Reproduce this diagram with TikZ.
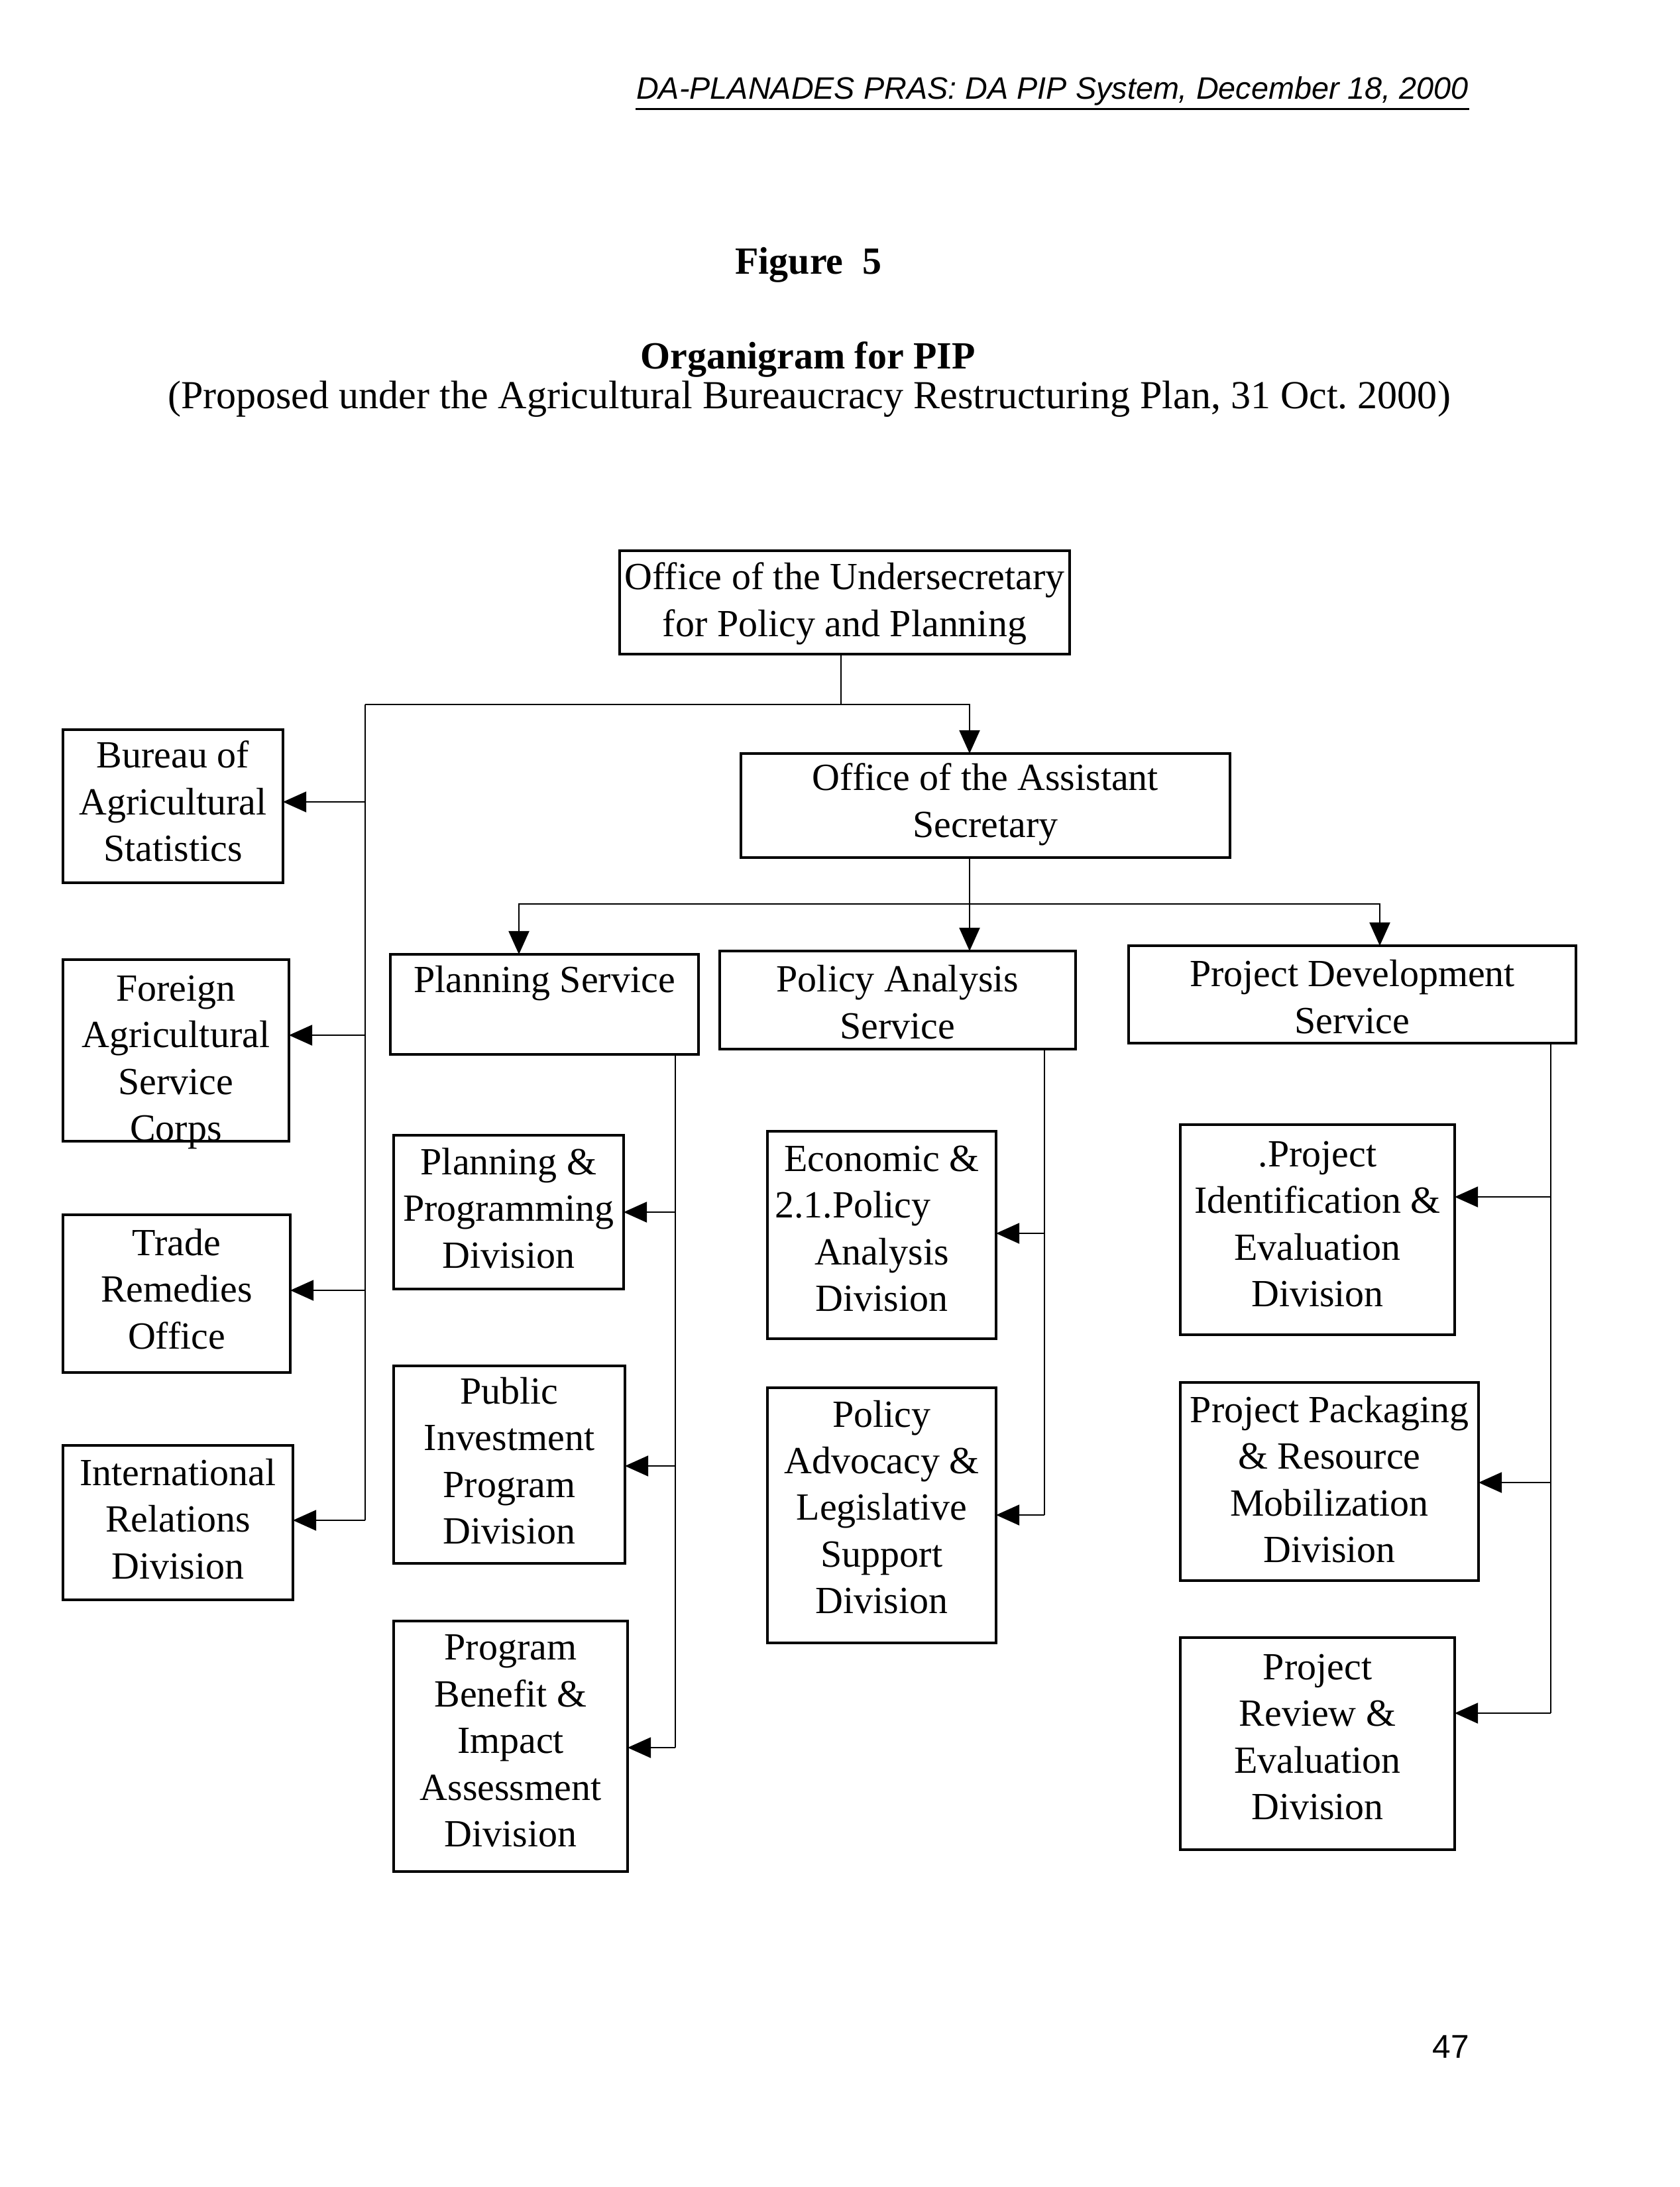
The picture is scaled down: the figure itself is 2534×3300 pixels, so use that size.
\documentclass[tikz,border=0pt]{standalone}
\usepackage{fontspec}
\setmainfont{Liberation Serif}
\newfontfamily\hdrfont{Liberation Sans}
\usetikzlibrary{arrows.meta}
\newcommand\bx[7]{%
  \node[box, minimum width={(#4-#2)*0.241515pt}, minimum height={(#5-#3)*0.241515pt}] (#1) at ({(#2+#4)/2},{(#3+#5)/2}) {};
  \node[txt] (#1t) at ({(#2+#4)/2},#6) {#7};}
\begin{document}
\begin{tikzpicture}[x=0.241515pt,y=-0.241515pt,
  box/.style={draw, line width=0.75pt, inner sep=0pt, outer sep=0pt},
  txt/.style={align=center, inner sep=0pt, font=\fontsize{14}{17}\selectfont},
  conn/.style={line width=0.55pt},
  arr/.style={line width=0.55pt, -{Triangle[length=8.5pt,width=7.5pt]}}]
\fill[white] (0,0) rectangle (2534,3300);
\useasboundingbox (0,0) rectangle (2534,3300);

% headings
\node[font=\hdrfont\itshape\fontsize{11.3}{13}\selectfont, inner sep=0pt] (hdr) at (1588,137) {DA-PLANADES PRAS: DA PIP System, December 18, 2000};
\draw[line width=0.9pt] ([yshift=-1.2pt]hdr.south west) -- ([yshift=-1.2pt]hdr.south east);
\node[font=\bfseries\fontsize{14}{17}\selectfont, inner sep=0pt] (fig) at (1220,400) {Figure~~5};
\node[font=\bfseries\fontsize{14}{17}\selectfont, inner sep=0pt] (ttl) at (1219,542) {Organigram for PIP};
\node[font=\fontsize{14.5}{17}\selectfont, inner sep=0pt] (sub) at (1221,602) {(Proposed under the Agricultural Bureaucracy Restructuring Plan, 31 Oct.\ 2000)};
\node[font=\hdrfont\fontsize{12}{14}\selectfont, inner sep=0pt] (pg) at (2189,3088) {47};

% boxes
\bx{us}{935}{831}{1614}{987}{911}{Office of the Undersecretary\\for Policy and Planning}
\bx{as}{1118}{1137}{1856}{1294}{1214}{Office of the Assistant\\Secretary}
\bx{bas}{95}{1101}{427}{1332}{1209}{Bureau of\\Agricultural\\Statistics}
\bx{fasc}{95}{1448}{436}{1722}{1603}{Foreign\\Agricultural\\Service\\Corps}
\bx{tro}{95}{1833}{438}{2071}{1945}{Trade\\Remedies\\Office}
\bx{ird}{95}{2181}{442}{2414}{2292}{International\\Relations\\Division}
\bx{ps}{589}{1440}{1054}{1591}{1484}{Planning Service}
\bx{pas}{1086}{1435}{1623}{1583}{1512}{Policy Analysis\\Service}
\bx{pds}{1703}{1427}{2378}{1574}{1504}{Project Development\\Service}
\bx{ppd}{594}{1713}{941}{1945}{1823}{Planning \&\\Programming\\Division}
\bx{pipd}{594}{2061}{943}{2359}{2204}{Public\\Investment\\Program\\Division}
\bx{pbia}{594}{2446}{947}{2824}{2627}{Program\\Benefit \&\\Impact\\Assessment\\Division}
\bx{epad}{1158}{1707}{1503}{2020}{1854}{Economic \&\\\makebox[0pt][r]{2.1.}Policy\\Analysis\\Division}
\bx{pals}{1158}{2094}{1503}{2479}{2274}{Policy\\Advocacy \&\\Legislative\\Support\\Division}
\bx{pied}{1781}{1697}{2195}{2014}{1847}{.Project\\Identification \&\\Evaluation\\Division}
\bx{pprm}{1781}{2086}{2231}{2385}{2232}{Project Packaging\\\& Resource\\Mobilization\\Division}
\bx{pred}{1781}{2471}{2195}{2791}{2621}{Project\\Review \&\\Evaluation\\Division}

% junctions
\coordinate (bL) at (551,1063);
\coordinate (j1) at (1269,1063);
\coordinate (j2) at (1463,1063);
\coordinate (j3) at (1463,1364);
\coordinate (j4) at (783,1364);
\coordinate (j5) at (2082,1364);
\coordinate (bP) at (1019,1600);
\coordinate (bA) at (1576,1600);
\coordinate (bD) at (2340,1600);

% top level
\draw[conn] (us.south -| j1) -- (j1);
\draw[arr] (bL) -- (j2) -- (as.north -| j2);
\draw[conn] (bL) -- (bL |- 0,2294);
\draw[arr] (bL |- 0,1210) -- (bas.east |- 0,1210);
\draw[arr] (bL |- 0,1562) -- (fasc.east |- 0,1562);
\draw[arr] (bL |- 0,1947) -- (tro.east |- 0,1947);
\draw[arr] (bL |- 0,2294) -- (ird.east |- 0,2294);

% assistant secretary to services
\draw[arr] (as.south -| j3) -- (pas.north -| j3);
\draw[arr] (j3) -- (j4) -- (ps.north -| j4);
\draw[arr] (j3) -- (j5) -- (pds.north -| j5);

% planning service
\draw[conn] (ps.south -| bP) -- (bP |- 0,2637);
\draw[arr] (bP |- 0,1829) -- (ppd.east |- 0,1829);
\draw[arr] (bP |- 0,2212) -- (pipd.east |- 0,2212);
\draw[arr] (bP |- 0,2637) -- (pbia.east |- 0,2637);

% policy analysis service
\draw[conn] (pas.south -| bA) -- (bA |- 0,2286);
\draw[arr] (bA |- 0,1861) -- (epad.east |- 0,1861);
\draw[arr] (bA |- 0,2286) -- (pals.east |- 0,2286);

% project development service
\draw[conn] (pds.south -| bD) -- (bD |- 0,2585);
\draw[arr] (bD |- 0,1806) -- (pied.east |- 0,1806);
\draw[arr] (bD |- 0,2237) -- (pprm.east |- 0,2237);
\draw[arr] (bD |- 0,2585) -- (pred.east |- 0,2585);
\end{tikzpicture}
\end{document}
